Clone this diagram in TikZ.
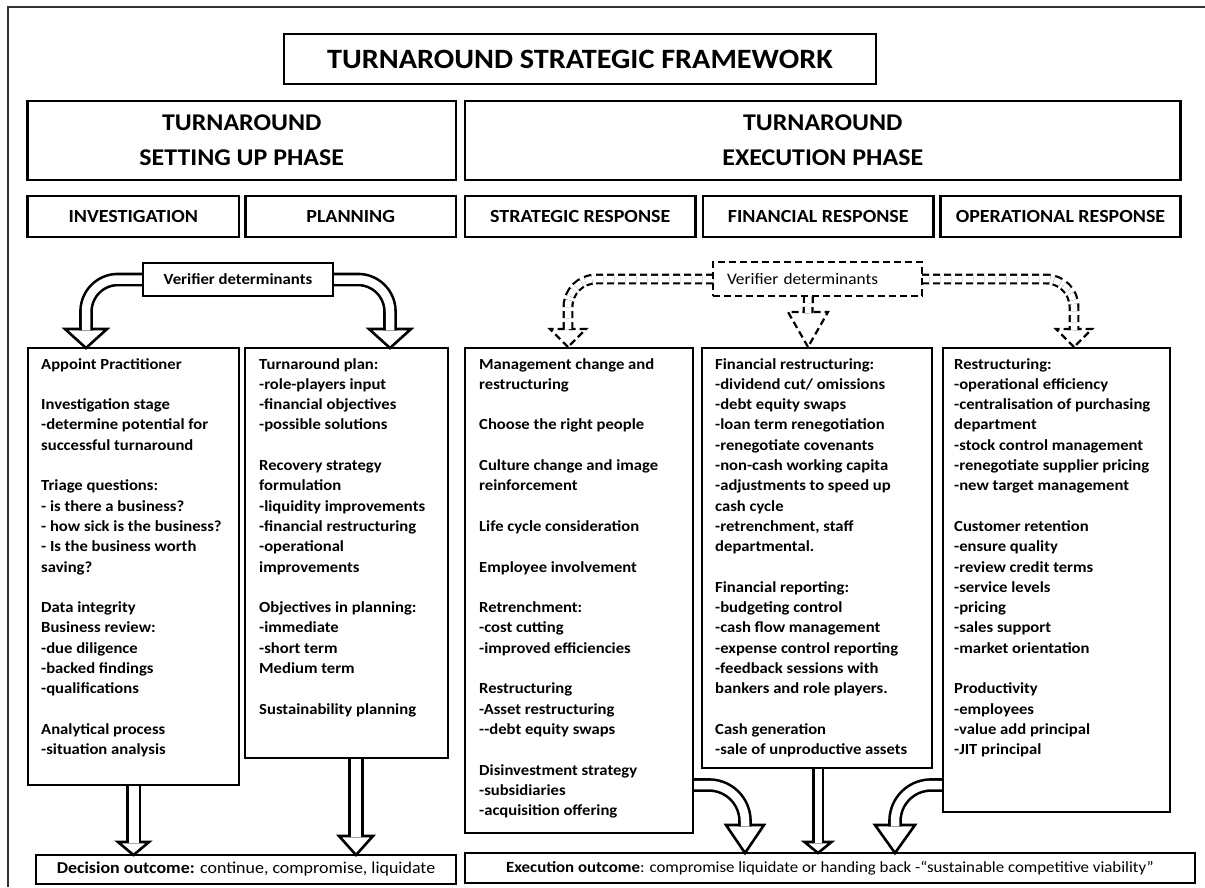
\documentclass[tikz,border=0pt]{standalone}
\usepackage{fontspec}
\setmainfont{Carlito}[FakeStretch=1.08]
\usetikzlibrary{positioning,backgrounds}
\newcommand{\colfont}{\fontsize{15.4}{20.3}\selectfont\bfseries}

\begin{document}
\begin{tikzpicture}[
  x=1pt, y=-1pt,
  box/.style={draw, line width=2.8, inner sep=0, outer sep=0, anchor=north west, align=center},
  hdr/.style={box, minimum height=41, font=\fontsize{18.5}{22}\selectfont\bfseries},
  phase/.style={box, minimum height=79, font=\fontsize{24}{35}\selectfont\bfseries},
  col/.style={box, line width=2.6},
  txt/.style={anchor=north west, inner sep=0, align=left, font=\colfont},
  outbox/.style={box, line width=2.4, font=\fontsize{15.6}{18}\selectfont},
  shaft/.style={line width=2.6, double=white, double distance=8.5},
  dshaft/.style={line width=2.2, double=white, double distance=6.5, dash pattern=on 7pt off 4pt},
  headtri/.style={draw, fill=white, line width=2.6, line join=miter},
  dheadtri/.style={draw, fill=white, line width=2.2, dash pattern=on 7pt off 4pt}
]
\useasboundingbox (0,0) rectangle (1205,887);
% outer frame
\draw[line width=2.5, black!80] (8,887) -- (8,7) -- (1205,7);

% title and phases
\node[box, minimum width=592, minimum height=50, font=\fontsize{28}{30}\selectfont\bfseries] (title) at (284,34) {TURNAROUND STRATEGIC FRAMEWORK};
\node[phase, minimum width=428.5] (setup) at (27.5,101) {TURNAROUND\\SETTING UP PHASE};
\node[phase, minimum width=715.5] (exec) at (465,101) {TURNAROUND\\EXECUTION PHASE};

% sub headers
\node[hdr, minimum width=211.5] (invhd) at (27.5,196) {INVESTIGATION};
\node[hdr, minimum width=210.5] (planhd) at (245.5,196) {PLANNING};
\node[hdr, minimum width=230.5] (strathd) at (465,196) {STRATEGIC RESPONSE};
\node[hdr, minimum width=230.5] (finhd) at (703,196) {FINANCIAL RESPONSE};
\node[hdr, minimum width=240] (opshd) at (940.5,196) {OPERATIONAL RESPONSE};

% verifier boxes
\node[box, line width=2.6, minimum width=190, minimum height=33, font=\fontsize{15.5}{18}\selectfont\bfseries] (ver) at (143,263) {Verifier determinants};
\node[box, line width=2.2, dash pattern=on 7pt off 4pt, minimum height=34, inner xsep=14, text width=181, align=left, font=\fontsize{16}{18}\selectfont] (dver) at (713,262) {Verifier determinants};

% columns
\node[col, minimum width=211, minimum height=437] (inv) at (28,348) {};
\node[col, minimum width=203, minimum height=410] (plan) at (245,348) {};
\node[col, minimum width=228, minimum height=485] (strat) at (465,348) {};
\node[col, minimum width=230, minimum height=420] (fin) at (702,348) {};
\node[col, minimum width=227, minimum height=464] (ops) at (943,348) {};

\node[txt] (invtxt) at ([xshift=13, yshift=-10]inv.north west) {Appoint Practitioner\\[\baselineskip]
Investigation stage\\-determine potential for\\successful turnaround\\[\baselineskip]
Triage questions:\\- is there a business?\\- how sick is the business?\\- Is the business worth\\saving?\\[\baselineskip]
Data integrity\\Business review:\\-due diligence\\-backed findings\\-qualifications\\[\baselineskip]
Analytical process\\-situation analysis};

\node[txt] (plantxt) at ([xshift=14, yshift=-10]plan.north west) {Turnaround plan:\\-role-players input\\-financial objectives\\-possible solutions\\[\baselineskip]
Recovery strategy\\formulation\\-liquidity improvements\\-financial restructuring\\-operational\\improvements\\[\baselineskip]
Objectives in planning:\\-immediate\\-short term\\Medium term\\[\baselineskip]
Sustainability planning};

\node[txt] (strattxt) at ([xshift=14, yshift=-10]strat.north west) {Management change and\\restructuring\\[\baselineskip]
Choose the right people\\[\baselineskip]
Culture change and image\\reinforcement\\[\baselineskip]
Life cycle consideration\\[\baselineskip]
Employee involvement\\[\baselineskip]
Retrenchment:\\-cost cutting\\-improved efficiencies\\[\baselineskip]
Restructuring\\-Asset restructuring\\{-}{-}debt equity swaps\\[\baselineskip]
Disinvestment strategy\\-subsidiaries\\-acquisition offering};

\node[txt] (fintxt) at ([xshift=13, yshift=-10]fin.north west) {Financial restructuring:\\-dividend cut/ omissions\\-debt equity swaps\\-loan term renegotiation\\-renegotiate covenants\\-non-cash working capita\\-adjustments to speed up\\cash cycle\\-retrenchment, staff\\departmental.\\[\baselineskip]
Financial reporting:\\-budgeting control\\-cash flow management\\-expense control reporting\\-feedback sessions with\\bankers and role players.\\[\baselineskip]
Cash generation\\-sale of unproductive assets};

\node[txt] (opstxt) at ([xshift=11, yshift=-10]ops.north west) {Restructuring:\\-operational efficiency\\-centralisation of purchasing\\department\\-stock control management\\-renegotiate supplier pricing\\-new target management\\[\baselineskip]
Customer retention\\-ensure quality\\-review credit terms\\-service levels\\-pricing\\-sales support\\-market orientation\\[\baselineskip]
Productivity\\-employees\\-value add principal\\-JIT principal};

% outcomes
\node[outbox, minimum width=420, minimum height=29, font=\fontsize{16.6}{18}\selectfont] (dec) at (36,855) {\textbf{Decision outcome:} continue, compromise, liquidate};
\node[outbox, minimum width=730, minimum height=30] (exo) at (465,853) {\textbf{Execution outcome}: compromise liquidate or handing back -“sustainable competitive viability”};

\begin{pgfonlayer}{background}
  % setting up phase: verifier arrows
  \draw[headtri] (86,348) -- (65,329) -- (107,329) -- cycle;
  \draw[headtri] (390,348) -- (369,329) -- (411,329) -- cycle;
  \coordinate (vlb) at (86,330.3);
  \coordinate (vrb) at (390,330.3);
  \draw[shaft, rounded corners=32] (ver.west) -| (vlb);
  \draw[shaft, rounded corners=32] (ver.east) -| (vrb);

  % execution phase: dashed verifier arrows
  \draw[dheadtri] (568,347) -- (550,329) -- (586,329) -- cycle;
  \draw[dheadtri] (808,347) -- (788,312) -- (828,312) -- cycle;
  \draw[dheadtri] (1074,347) -- (1056,329) -- (1092,329) -- cycle;
  \coordinate (dlb) at (568,330.1);
  \coordinate (dmb) at (808,313.1);
  \coordinate (drb) at (1074,330.1);
  \draw[dshaft, rounded corners=28] (dver.west) -| (dlb);
  \draw[dshaft] ([xshift=-9]dver.south) -- (dmb);
  \draw[dshaft, rounded corners=28] (dver.east) -| (drb);

  % outcome arrows
  \draw[headtri] (133.5,855) -- (118,842) -- (149,842) -- cycle;
  \draw[headtri] (356,855) -- (339,836) -- (373,836) -- cycle;
  \draw[headtri] (818,853) -- (804.5,842) -- (831.5,842) -- cycle;
  \draw[headtri] (745,853) -- (726,825) -- (764,825) -- cycle;
  \draw[headtri] (895,853) -- (875,825) -- (915,825) -- cycle;
  \coordinate (ib) at (133.5,843.3);
  \coordinate (pb) at (356,837.3);
  \coordinate (fb) at (818,843.3);
  \coordinate (sb) at (745,826.3);
  \coordinate (ob) at (895,826.3);
  \draw[shaft, double distance=10] (inv.south) -- (ib);
  \draw[shaft, double distance=10] ([xshift=9.5]plan.south) -- (pb);
  \draw[shaft, double distance=7] ([xshift=1]fin.south) -- (fb);
  \draw[shaft, rounded corners=36] ([yshift=48]strat.south east) -| (sb);
  \draw[shaft, rounded corners=36] ([yshift=27]ops.south west) -| (ob);
\end{pgfonlayer}
\end{tikzpicture}
\end{document}
